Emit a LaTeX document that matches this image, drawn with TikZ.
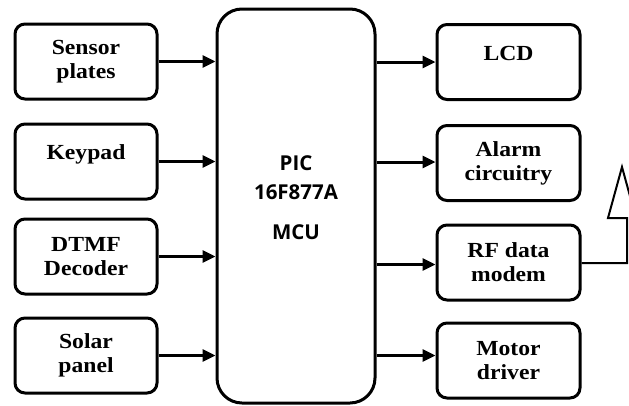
\documentclass[tikz,border=0pt]{standalone}
\usepackage{fontspec}
\setmainfont[FakeStretch=1.1]{Liberation Serif}
\newfontfamily\mcufont{Open Sans}
\usetikzlibrary{arrows.meta}
\tikzset{
  blk/.style={draw, line width=3pt, rounded corners=10pt, minimum width=142pt, minimum height=75pt, inner sep=0pt, align=center,
    font=\bfseries\fontsize{21.5}{24}\selectfont},
  oneline/.style={text height=15pt, text depth=19pt},
  mcubox/.style={draw, line width=3pt, rounded corners=25pt, minimum width=158pt, minimum height=394pt, inner sep=0pt},
  mcutxt/.style={align=center, font=\mcufont\bfseries\fontsize{20.5}{29}\selectfont},
  arr/.style={line width=3pt, -{Triangle[length=13pt,width=12pt]}},
  ant/.style={line width=2pt, line join=miter}
}
\begin{document}
\begin{tikzpicture}[x=1pt,y=-1pt]
\useasboundingbox (0,0) rectangle (629,405);
\clip (0,0) rectangle (629,405);
% MCU
\node[mcubox] (mcu) at (296,206) {};
\node[mcutxt] (mcut) at (296,198) {PIC\\16F877A\\[11pt]MCU};
% inputs
\node[blk] (sensor) at (86,61.5) {Sensor\\plates};
\node[blk,oneline] (keypad) at (86,161.5) {Keypad};
\node[blk] (dtmf) at (86,256.5) {DTMF\\Decoder};
\node[blk] (solar) at (86,355.5) {Solar\\panel};
% outputs
\node[blk,minimum width=143pt,oneline] (lcd) at (508.5,62) {LCD};
\node[blk,minimum width=143pt] (alarm) at (508.5,163) {Alarm\\circuitry};
\node[blk,minimum width=143pt] (rf) at (508.5,262.5) {RF data\\modem};
\node[blk,minimum width=143pt] (motor) at (508.5,360.5) {Motor\\driver};
% arrows in
\draw[arr] (sensor.east) -- (sensor.east -| mcu.west);
\draw[arr] (keypad.east) -- (keypad.east -| mcu.west);
\draw[arr] (dtmf.east) -- (dtmf.east -| mcu.west);
\draw[arr] (solar.east) -- (solar.east -| mcu.west);
% arrows out
\draw[arr] (lcd.west -| mcu.east) -- (lcd.west);
\draw[arr] ([yshift=1pt]alarm.west -| mcu.east) -- ([yshift=1pt]alarm.west);
\draw[arr] ([yshift=-2pt]rf.west -| mcu.east) -- ([yshift=-2pt]rf.west);
\draw[arr] ([yshift=5pt]motor.west -| mcu.east) -- ([yshift=5pt]motor.west);
% antenna
\coordinate (a1) at (627,263);
\coordinate (a2) at (627,218);
\coordinate (a3) at (608,218);
\coordinate (apex) at (622,167);
\coordinate (a4) at (636,218);
\draw[ant] ([yshift=-0.5pt]rf.east) -- (a1) -- (a2) -- (a3) -- (apex) -- (a4);
\end{tikzpicture}
\end{document}
